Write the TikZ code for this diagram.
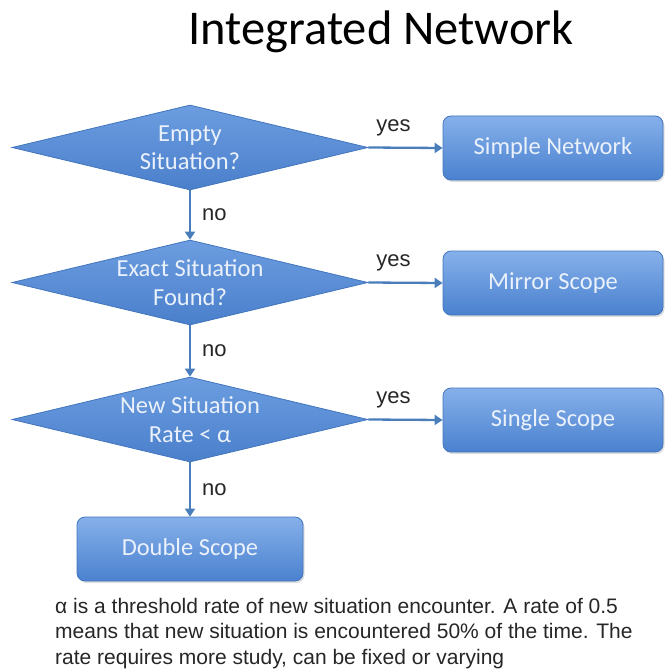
\documentclass[tikz,border=0pt]{standalone}
\usepackage{fontspec}
\setmainfont{Carlito}
\newfontfamily\arialf{Liberation Sans}
\usetikzlibrary{shapes.geometric,arrows.meta,shadows}
\definecolor{dedge}{HTML}{4275BD}
\definecolor{dtop}{HTML}{6C9DE0}
\definecolor{dbot}{HTML}{4A7FCB}
\definecolor{btop}{HTML}{86B0EA}
\definecolor{bbot}{HTML}{4A81CF}
\definecolor{txtw}{HTML}{EAF1FB}
\definecolor{arrowc}{HTML}{4A7EBB}
\begin{document}
\begin{tikzpicture}[x=1pt,y=-1pt,
  decision/.style={diamond, draw=dedge, line width=0.8pt, top color=dtop, bottom color=dbot,
    minimum width=356pt, minimum height=85pt, aspect=4.19, inner sep=0pt,
    font=\fontsize{24.5}{28.5}\selectfont, text=txtw, align=center},
  result/.style={rectangle, rounded corners=8pt, draw=dedge, line width=0.8pt,
    top color=btop, bottom color=bbot, drop shadow={opacity=0.25, shadow xshift=1.5pt, shadow yshift=-2pt},
    font=\fontsize{24.5}{28}\selectfont, text=txtw, inner sep=0pt},
  flow/.style={draw=arrowc, line width=2.3pt, -{Triangle[length=8pt,width=10pt]}},
  lbl/.style={font=\arialf\fontsize{22}{24}\selectfont, text=black!85, inner sep=0pt}
]
\useasboundingbox (0,0) rectangle (665,671);
\node[anchor=base, inner sep=0pt] (title) at (381,45) {\fontsize{48.5}{52}\selectfont Integrated Network};

\node[decision] (d1) at (190,147.5) {Empty\\Situation?};
\node[decision] (d2) at (190,282.5) {Exact Situation\\Found?};
\node[decision] (d3) at (190,419.5) {New Situation\\Rate < α};

\node[result, minimum width=220pt, minimum height=64pt] (b1) at (553,148) {Simple Network};
\node[result, minimum width=220pt, minimum height=64pt] (b2) at (553,283) {Mirror Scope};
\node[result, minimum width=220pt, minimum height=64pt] (b3) at (553,420) {Single Scope};
\node[result, minimum width=226pt, minimum height=64pt] (b4) at (190,549) {Double Scope};

\draw[flow] (d1.east) -- (b1.west) node[lbl, midway, above=11pt, xshift=-12pt] {yes};
\draw[flow] (d2.east) -- (b2.west) node[lbl, midway, above=11pt, xshift=-12pt] {yes};
\draw[flow] (d3.east) -- (b3.west) node[lbl, midway, above=11pt, xshift=-12pt] {yes};
\draw[flow] (d1.south) -- (d2.north) node[lbl, midway, right=11pt] {no};
\draw[flow] (d2.south) -- (d3.north) node[lbl, midway, right=11pt] {no};
\draw[flow] (d3.south) -- (b4.north) node[lbl, midway, right=11pt] {no};

\node[font=\arialf\fontsize{21}{25.5}\selectfont, text=black!85, align=left, anchor=north west, inner sep=0pt] (cap) at (55,598)
  {α is a threshold rate of new situation encounter. A rate of 0.5\\
   means that new situation is encountered 50\% of the time. The\\
   rate requires more study, can be fixed or varying};
\end{tikzpicture}
\end{document}
